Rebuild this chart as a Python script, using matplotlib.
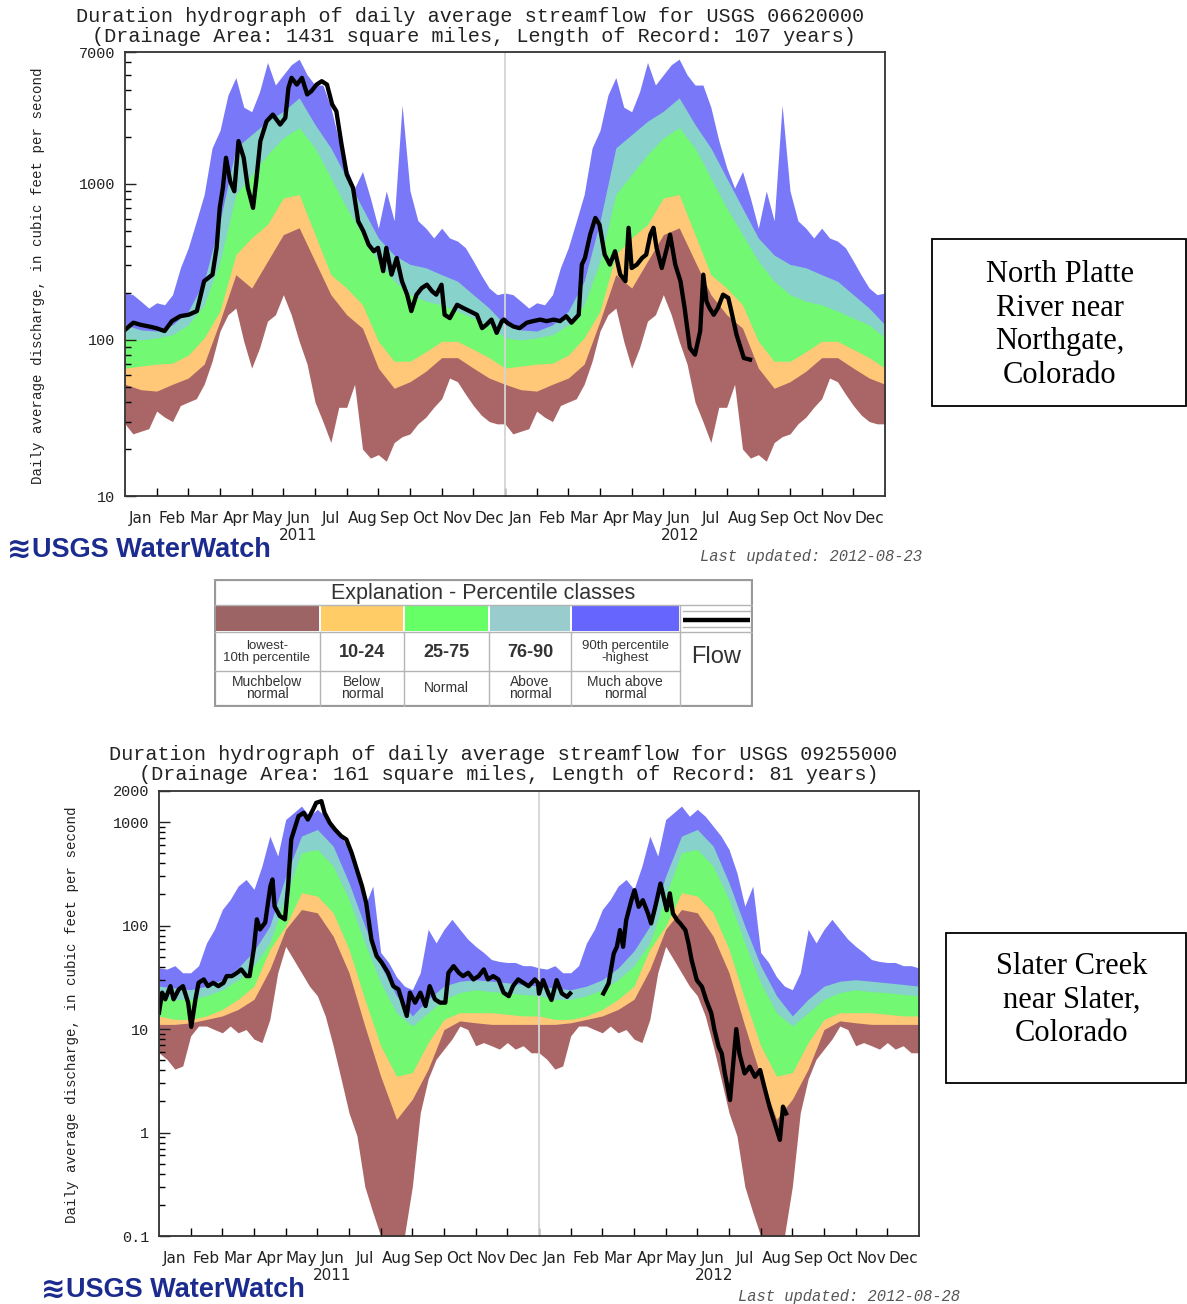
import numpy as np
import matplotlib
matplotlib.use("Agg")
import matplotlib.pyplot as plt
from matplotlib.patches import Rectangle
from matplotlib.ticker import FixedLocator, NullFormatter
from matplotlib.transforms import blended_transform_factory

# ---------------------------------------------------------------------------
# Data
# ---------------------------------------------------------------------------
months = ["Jan", "Feb", "Mar", "Apr", "May", "Jun",
          "Jul", "Aug", "Sep", "Oct", "Nov", "Dec"]
years = ["2011", "2012"]

# North Platte River near Northgate (USGS 06620000), cfs
# percentile boundaries through the calendar year; max/min sampled every
# quarter month, inner percentiles every half month
platte_max = [200, 195, 177, 160, 173, 168, 195, 290, 390, 575, 855, 1700,
              2200, 3700, 4800, 3100, 2900, 3900, 6000, 4300, 5000, 5800, 6300, 5000,
              4300, 4300, 3100, 1900, 1270, 940, 1200, 810, 520, 900, 580, 3200,
              900, 580, 520, 450, 520, 450, 430, 390, 320, 260, 215, 195]
platte_p90 = [125, 116, 114, 125, 153, 238, 576, 1700, 2070, 2520, 2920, 3560,
              2400, 1700, 1090, 700, 450, 350, 305, 290, 262, 238, 195, 160]
platte_p75 = [103, 100, 103, 108, 125, 168, 319, 854, 1150, 1540, 1970, 2290,
              1700, 1090, 700, 473, 319, 238, 195, 177, 168, 153, 138, 125]
platte_p25 = [66, 68, 70, 71, 80, 103, 153, 352, 451, 549, 813, 854,
              473, 262, 215, 168, 98, 73, 73, 84, 98, 98, 87, 77]
platte_p10 = [52, 48, 47, 52, 57, 70, 132, 262, 215, 319, 473, 523,
              319, 195, 145, 119, 66, 49, 54, 63, 77, 77, 66, 57]
platte_min = [29, 25, 26, 27, 35, 32, 30, 38, 40, 42, 52, 73,
              114, 145, 160, 98, 66, 89, 132, 145, 195, 145, 98, 70,
              40, 30, 22, 37, 37, 52, 20, 17.5, 18.4, 16.7, 22, 24,
              25, 29, 32, 37, 42, 57, 54, 45, 38, 33, 30, 29]

platte_2011_day = [0, 8, 15, 23, 30, 38, 45, 53, 61, 69, 76, 84, 88, 91, 94, 97,
                   101, 105, 109, 114, 118, 123, 126, 130, 136, 142, 149, 154, 157,
                   160, 165, 170, 175, 179, 184, 189, 194, 199, 203, 208, 213, 219,
                   224, 229, 234, 239, 243, 248, 251, 256, 261, 266, 271, 275, 280,
                   285, 290, 295, 299, 304, 307, 312, 319, 325, 331, 338, 343, 347,
                   352, 357, 362, 364]
platte_2011_flow = [116, 129, 125, 122, 119, 114, 132, 142, 145, 153, 238, 262, 389,
                    702, 943, 1470, 1040, 897, 1880, 1470, 943, 702, 1040, 1880, 2520,
                    2780, 2400, 2650, 4130, 4780, 4330, 4780, 3740, 3930, 4330, 4550,
                    4330, 3230, 2920, 1790, 1150, 943, 576, 497, 408, 370, 389, 276,
                    389, 262, 335, 238, 195, 153, 195, 215, 226, 205, 195, 226, 145,
                    138, 168, 160, 153, 145, 119, 125, 135, 111, 132, 135]
platte_2012_day = [2, 8, 14, 21, 27, 34, 40, 47, 53, 59, 64, 71, 74, 77, 82, 87, 91,
                   96, 101, 106, 111, 116, 119, 122, 127, 132, 136, 140, 143, 146,
                   151, 156, 159, 164, 169, 173, 178, 183, 188, 191, 194, 197, 201,
                   205, 210, 215, 218, 223, 230, 236]
platte_2012_flow = [129, 122, 119, 129, 132, 135, 132, 135, 132, 142, 129, 145, 304,
                    335, 473, 605, 549, 352, 304, 370, 262, 238, 523, 289, 304, 335,
                    352, 473, 523, 389, 289, 389, 473, 304, 238, 160, 89, 80.5, 114,
                    262, 177, 160, 145, 160, 195, 186, 153, 108, 76.6, 74.8]

# Slater Creek near Slater (USGS 09255000), cfs
slater_max = [39, 38, 41, 35, 35, 41, 68, 92, 143, 179, 241, 279,
              224, 376, 733, 470, 1060, 1230, 1430, 1140, 1330, 1140, 915, 733,
              545, 324, 154, 241, 55, 44, 32, 26, 24, 35, 92, 68,
              92, 115, 92, 74, 63, 55, 47, 45, 44, 44, 41, 41]
slater_p90 = [26, 25, 24, 26, 30, 39, 57, 99, 301, 733, 850, 587,
              259, 99, 41, 21, 13.4, 19.4, 26, 29, 30, 29, 28, 27]
slater_p75 = [21, 19.4, 19.4, 21, 24, 30, 41, 68, 193, 506, 545, 376,
              179, 68, 28, 14.4, 10.7, 14.4, 19.4, 22.5, 24, 23, 22.5, 21.6]
slater_p25 = [13.4, 12.4, 12.4, 13.4, 15.5, 19.4, 26, 59, 99, 208, 193, 133,
              59, 19.4, 6.9, 3.5, 3.8, 7.4, 12.4, 14.4, 14.4, 14.4, 13.9, 13.4]
slater_p10 = [11.1, 11.1, 11.5, 12.4, 13.4, 15.5, 19.4, 37.7, 92, 143, 133, 79,
              35, 10.7, 3.5, 1.34, 2.1, 4.1, 9.9, 12, 11.5, 11.1, 11.1, 11.1]
slater_min = [5.9, 5.1, 4.1, 4.4, 8.6, 10.7, 10.7, 9.9, 9.2, 10.7, 9.2, 9.9,
              8.0, 7.4, 12.4, 35, 63, 47, 35, 26, 21, 13.4, 6.9, 3.3,
              1.55, 0.93, 0.30, 0.17, 0.1, 0.1, 0.1, 0.1, 0.30, 1.55, 3.3, 5.1,
              6.4, 8.0, 10.7, 9.9, 6.9, 7.4, 6.9, 6.4, 7.4, 6.4, 6.9, 5.9]

slater_2011_day = [0, 3, 6, 11, 14, 19, 23, 28, 31, 35, 38, 43, 47, 52, 57, 62, 65,
                   70, 75, 79, 84, 87, 91, 94, 97, 102, 107, 109, 111, 116, 121, 124,
                   127, 131, 134, 139, 143, 148, 151, 156, 159, 164, 169, 175, 180,
                   185, 190, 195, 199, 204, 209, 214, 220, 225, 230, 235, 238, 241,
                   246, 251, 256, 260, 265, 270, 275, 278, 283, 288, 292, 297, 302,
                   307, 312, 316, 321, 326, 331, 336, 340, 345, 350, 355, 361, 364]
slater_2011_flow = [14.4, 22.5, 19.4, 26, 19.4, 24.2, 26, 18, 10.5, 19.4, 28, 30.2,
                    26, 28, 26, 28, 32.5, 32.5, 35, 37.7, 32.5, 32.5, 58.9, 115, 91.9,
                    107, 241, 279, 154, 124, 115, 241, 680, 915, 1143, 1231, 1061,
                    1326, 1538, 1596, 1231, 985, 850, 733, 680, 506, 349, 241, 166,
                    73.5, 50.8, 43.8, 35, 26, 24.2, 16.7, 13.4, 22.5, 18, 22.5, 16.7,
                    26, 19.4, 18, 18, 35, 40.6, 35, 32.5, 35, 30.2, 32.5, 37.7, 30.2,
                    32.5, 30.2, 22.5, 20.8, 26, 30.2, 28, 26, 30.2, 28]
slater_2012_winter_day = [0, 4, 9, 12, 17, 22, 27, 30]
slater_2012_winter_flow = [22, 29.7, 22.1, 19.1, 29.7, 22.1, 20.5, 22.1]
slater_2012_spring_day = [62, 67, 72, 75, 78, 81, 84, 89, 92, 96, 100, 105, 108, 112,
                          117, 120, 123, 126, 129, 133, 136, 141, 144, 147, 152, 157,
                          161, 166, 169, 173, 176, 179, 184, 190, 193, 198, 203, 208,
                          213, 217, 222, 232, 235, 238]
slater_2012_spring_flow = [22.1, 27.6, 53.8, 62.4, 90.5, 62.4, 113, 176, 220, 152,
                           176, 131, 105, 152, 255, 190, 141, 205, 131, 113, 105,
                           90.5, 67.2, 46.4, 29.7, 25.6, 19.1, 14.2, 9.8, 6.75, 5.82,
                           3.73, 2.06, 10, 5.82, 3.73, 4.33, 3.46, 4.02, 2.77, 1.78,
                           0.85, 1.78, 1.53]

legend_labels = ["lowest-\n10th percentile", "10-24", "25-75", "76-90",
                 "90th percentile\n-highest"]
legend_classes = ["Muchbelow\nnormal", "Below\nnormal", "Normal",
                  "Above\nnormal", "Much above\nnormal"]

# ---------------------------------------------------------------------------
# Style
# ---------------------------------------------------------------------------
C_BROWN, C_ORANGE, C_GREEN = "#aa6666", "#fec878", "#72f872"
C_TEAL, C_BLUE = "#88d2cc", "#7878f8"
L_COLORS = ["#9c6464", "#ffcc66", "#66ff66", "#99cccc", "#6666ff"]
NAVY = "#1c2b8e"
MONO = ["Liberation Mono", "DejaVu Sans Mono"]
SANS = ["DejaVu Sans"]
ARIAL = ["Liberation Sans", "DejaVu Sans"]

W, H = 1187, 1304
fig = plt.figure(figsize=(W / 100, H / 100), dpi=100)
fig.patch.set_facecolor("white")


def fx(x):
    return x / W


def fy(y):
    return 1 - y / H


def annual(vals):
    """Repeat one calendar year of percentile values over two years."""
    vals = np.asarray(vals, float)
    n = len(vals)
    pos = np.arange(n) / n
    return (np.concatenate([pos, 1 + pos, [2.0]]),
            np.concatenate([vals, vals, vals[:1]]))


def hydrograph(px_box, bands, flows, ylim, yticks, ylabels, minors,
               titles, title_cx, title_y, ylab_xy, logo_x, logo_y,
               updated, upd_x, upd_y):
    left, top, right, bottom = px_box
    ax = fig.add_axes([fx(left), fy(bottom), (right - left) / W, (bottom - top) / H])
    ax.set_yscale("log")
    ax.set_xlim(0, 2)
    ax.set_ylim(*ylim)
    base = ylim[0] * 1e-3
    for vals, col in bands:
        x, y = annual(vals)
        ax.fill_between(x, y, base, color=col, lw=0, zorder=1)
    ax.axvline(1, color="#d4d4d4", lw=1.3, zorder=3)
    for x, y in flows:
        ax.plot(x, y, color="black", lw=3.1, zorder=4, solid_joinstyle="round")

    ax.set_yticks(yticks)
    ax.set_yticklabels(ylabels)
    ax.yaxis.set_minor_locator(FixedLocator(minors))
    ax.yaxis.set_minor_formatter(NullFormatter())
    ax.tick_params(axis="y", which="major", direction="in", length=8, width=1,
                   pad=7, labelsize=11, labelfontfamily=MONO[0], colors="#222")
    ax.tick_params(axis="y", which="minor", direction="in", length=4, width=1)

    ax.set_xticks(np.arange(1, 24) / 12)
    ax.set_xticks((np.arange(24) + 0.5) / 12, minor=True)
    ax.set_xticklabels([])
    ax.set_xticklabels(months * 2, minor=True)
    ax.tick_params(axis="x", which="major", direction="in", length=6, width=1)
    ax.tick_params(axis="x", which="minor", length=0, pad=11, labelsize=11,
                   labelfontfamily=SANS[0], labelcolor="#222")
    tr = blended_transform_factory(ax.transData, ax.transAxes)
    hax = bottom - top
    for xc, yr in zip([0.455, 1.461], years):
        ax.text(xc, -40 / hax, yr, transform=tr, ha="center", va="center",
                fontsize=11, family=SANS, color="#222")
    for s in ax.spines.values():
        s.set_color("#333")
        s.set_linewidth(1.3)
        s.set_zorder(5)

    fig.text(fx(title_cx[0]), fy(title_y[0]), titles[0], ha="center", va="center",
             family=MONO, fontsize=14.5, color="#222")
    fig.text(fx(title_cx[1]), fy(title_y[1]), titles[1], ha="center", va="center",
             family=MONO, fontsize=14.5, color="#222")
    fig.text(fx(ylab_xy[0]), fy(ylab_xy[1]),
             "Daily average discharge, in cubic feet per second",
             rotation=90, ha="center", va="center", family=MONO, fontsize=10.2,
             color="#222")
    # USGS WaterWatch wordmark
    fig.text(fx(logo_x - 1), fy(logo_y), "\u224b", ha="left", va="center",
             family=["DejaVu Sans"], fontweight="bold", fontsize=21, color=NAVY)
    fig.text(fx(logo_x + 24), fy(logo_y), "USGS WaterWatch", ha="left", va="center",
             family=ARIAL, fontweight="bold", fontsize=19.5, color=NAVY)
    fig.text(fx(upd_x), fy(upd_y), updated, ha="left", va="center", family=MONO,
             style="italic", fontsize=11.2, color="#555")
    return ax


# ---------------------------------------------------------------------------
# North Platte panel
# ---------------------------------------------------------------------------
platte_flow_x = np.concatenate([np.array(platte_2011_day) / 365,
                                1 + np.array(platte_2012_day) / 366])
platte_flow_y = np.concatenate([platte_2011_flow, platte_2012_flow])
hydrograph(
    (125, 52, 885, 496),
    [(platte_max, C_BLUE), (platte_p90, C_TEAL), (platte_p75, C_GREEN),
     (platte_p25, C_ORANGE), (platte_p10, C_BROWN), (platte_min, "white")],
    [(platte_flow_x, platte_flow_y)],
    (10, 7000), [10, 100, 1000, 7000], ["10", "100", "1000", "7000"],
    [20, 30, 40, 50, 60, 70, 80, 90, 200, 300, 400, 500, 600, 700, 800, 900,
     2000, 3000, 4000, 5000, 6000],
    ["Duration hydrograph of daily average streamflow for USGS 06620000",
     "(Drainage Area: 1431 square miles, Length of Record: 107 years)"],
    (470, 474), (16, 36), (38, 276), 8, 550,
    "Last updated: 2012-08-23", 700, 556)

# ---------------------------------------------------------------------------
# Slater Creek panel
# ---------------------------------------------------------------------------
slater_flow_a_x = np.concatenate([np.array(slater_2011_day) / 365,
                                  1 + np.array(slater_2012_winter_day) / 366])
slater_flow_a_y = np.concatenate([slater_2011_flow, slater_2012_winter_flow])
slater_flow_b_x = 1 + np.array(slater_2012_spring_day) / 366
slater_flow_b_y = np.array(slater_2012_spring_flow)
hydrograph(
    (159, 791, 919, 1236),
    [(slater_max, C_BLUE), (slater_p90, C_TEAL), (slater_p75, C_GREEN),
     (slater_p25, C_ORANGE), (slater_p10, C_BROWN), (slater_min, "white")],
    [(slater_flow_a_x, slater_flow_a_y), (slater_flow_b_x, slater_flow_b_y)],
    (0.1, 2000), [0.1, 1, 10, 100, 1000, 2000],
    ["0.1", "1", "10", "100", "1000", "2000"],
    [0.2, 0.3, 0.4, 0.5, 0.6, 0.7, 0.8, 0.9, 2, 3, 4, 5, 6, 7, 8, 9,
     20, 30, 40, 50, 60, 70, 80, 90, 200, 300, 400, 500, 600, 700, 800, 900],
    ["Duration hydrograph of daily average streamflow for USGS 09255000",
     "(Drainage Area: 161 square miles, Length of Record: 81 years)"],
    (503, 509), (755, 775), (72, 1015), 42, 1290,
    "Last updated: 2012-08-28", 738, 1296)

# ---------------------------------------------------------------------------
# Percentile-class explanation table
# ---------------------------------------------------------------------------
lg = fig.add_axes([fx(214), fy(707), 539 / W, 128 / H])
lg.set_xlim(214, 753)
lg.set_ylim(707, 579)
lg.axis("off")
GRAY = "#b4b4b4"
lg.add_patch(Rectangle((215, 580), 537, 126, fill=False, ec="#9a9a9a", lw=1.6))
lg.plot([215, 752], [605, 605], color=GRAY, lw=1)
lg.text(483, 593, "Explanation - Percentile classes", ha="center", va="center",
        family=ARIAL, fontsize=15.5, color="#333")
cells = [(216, 319), (321, 403), (405, 488), (490, 570), (572, 679)]
for (x0, x1), col in zip(cells, L_COLORS):
    lg.add_patch(Rectangle((x0, 606), x1 - x0, 25, fc=col, ec="none"))
lg.plot([683, 750], [611, 611], color=GRAY, lw=1)
lg.plot([683, 750], [627, 627], color=GRAY, lw=1)
lg.plot([683, 750], [619.5, 619.5], color="black", lw=3.2, solid_capstyle="butt")
lg.plot([215, 752], [632, 632], color=GRAY, lw=1)
lg.plot([215, 680], [671, 671], color=GRAY, lw=1)
for xv in [320, 404, 489, 571, 680]:
    lg.plot([xv, xv], [606 if xv == 680 else 632, 706], color=GRAY, lw=1)
centers = [267, 362, 446, 530, 625]
sizes_top = [9.5, 13, 13, 13, 9.5]
for xc, txt, fs in zip(centers, legend_labels, sizes_top):
    lg.text(xc, 652, txt, ha="center", va="center", fontsize=fs, linespacing=0.9,
            family=ARIAL, fontweight="normal" if fs < 10 else "bold", color="#333")
for xc, txt in zip(centers, legend_classes):
    lg.text(xc, 688, txt, ha="center", va="center", fontsize=10, linespacing=0.85,
            family=ARIAL, color="#333")
lg.text(716, 657, "Flow", ha="center", va="center", fontsize=17,
        family=ARIAL, color="#333")

# ---------------------------------------------------------------------------
# Station name boxes
# ---------------------------------------------------------------------------
for (x0, y0, x1, y1), name, (cx, cy) in [
        ((932, 239, 1186, 406), "North Platte\nRiver near\nNorthgate,\nColorado", (1060, 325)),
        ((946, 933, 1186, 1083), "Slater Creek\nnear Slater,\nColorado", (1072, 1000))]:
    fig.add_artist(Rectangle((fx(x0), fy(y1)), (x1 - x0) / W, (y1 - y0) / H,
                             transform=fig.transFigure, fill=False, ec="black", lw=1.3))
    fig.text(fx(cx), fy(cy), name, ha="center", va="center", fontsize=22,
             family=["Liberation Serif", "DejaVu Serif"], linespacing=1.2,
             color="black")

fig.savefig("out.png", dpi=100, facecolor="white")
